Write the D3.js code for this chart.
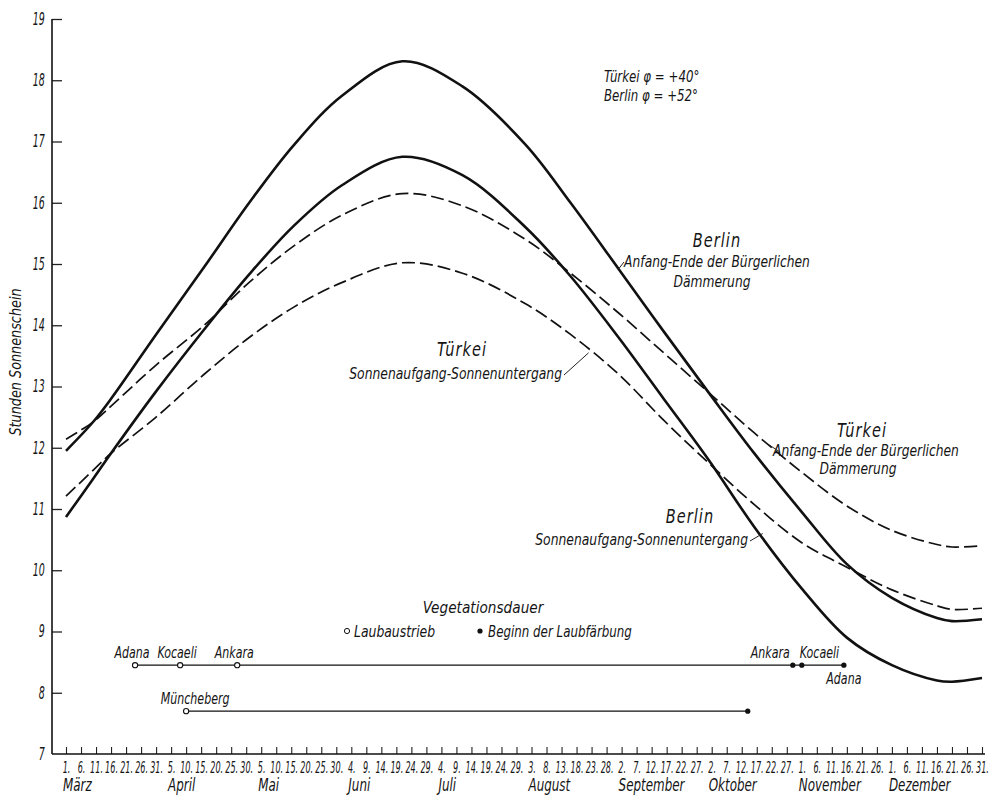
<!DOCTYPE html>
<html><head><meta charset="utf-8">
<script src="https://cdn.jsdelivr.net/npm/d3@7"></script>
<style>
body{margin:0;background:#fff;}
svg text{font-family:"DejaVu Sans Condensed","DejaVu Sans",sans-serif;font-style:italic;fill:#151515;}
</style></head><body>
<svg id="c" width="990" height="796"></svg>
<script>
const YEAR = "1938";
// sample dates (MM-DD) at which the curves were read
const sampleDates = ["03-01","03-10","03-16","03-31","04-16","05-01","05-16","06-01","06-21","07-11","08-01","08-16","09-01","09-16","10-01","10-16","11-01","11-16","12-01","12-16","12-21","12-31"];
// hours of sunshine
const berlinTwilight = [11.95,12.42,12.80,13.85,14.95,16.00,16.95,17.75,18.31,17.90,16.95,16.00,14.92,13.90,12.90,11.92,10.95,10.10,9.55,9.22,9.17,9.20];
const tuerkeiTwilight = [12.14,12.42,12.68,13.35,14.00,14.70,15.30,15.80,16.15,15.95,15.40,14.85,14.20,13.55,12.90,12.25,11.60,11.05,10.65,10.42,10.38,10.40];
const berlinSun = [10.87,11.49,11.91,12.92,13.93,14.83,15.63,16.29,16.75,16.45,15.60,14.80,13.80,12.80,11.80,10.72,9.70,8.90,8.45,8.20,8.18,8.24];
const tuerkeiSun = [11.21,11.63,11.91,12.50,13.20,13.80,14.30,14.70,15.02,14.85,14.35,13.85,13.20,12.45,11.75,11.08,10.45,10.05,9.68,9.42,9.36,9.38];

const yTicks = [7,8,9,10,11,12,13,14,15,16,17,18,19];
const monthNames = ["März","April","Mai","Juni","Juli","August","September","Oktober","November","Dezember"];

// Vegetationsdauer
const turkeyStartNames = ["Adana","Kocaeli","Ankara"];
const turkeyStartDates = ["03-24","04-08","04-27"];
const turkeyEndNames = ["Ankara","Kocaeli","Adana"];
const turkeyEndDates = ["10-29","11-01","11-15"];
const turkeyRow = 8.45;
const munchebergName = "Müncheberg";
const munchebergDates = ["04-10","10-14"];
const munchebergRow = 7.70;

const parse = d3.utcParse("%Y-%m-%d");
const D = s => parse(`${YEAR}-${s}`);

const svg = d3.select("#c");
const x = d3.scaleUtc().domain([D("03-01"), D("12-31")]).range([66, 982]);
const y = d3.scaleLinear().domain([7, 19]).range([754, 19]);
const axisY = y(7);
const axisX = 52;

// horizontally condense a text selection (the reference uses a narrow lettering)
function condense(sel, s) {
  sel.each(function () {
    const t = d3.select(this);
    const xx = +t.attr("x") || 0, yy = +t.attr("y") || 0;
    t.attr("x", 0).attr("y", 0).attr("transform", `translate(${xx},${yy}) scale(${s},1)`);
  });
  return sel;
}
function txt(xx, yy, t, size, anchor, s) {
  const e = svg.append("text").attr("x", xx).attr("y", yy).attr("text-anchor", anchor || "start")
    .style("font-size", size + "px").text(t);
  condense(e, s || 1);
  return e;
}

// ---- y axis
const gy = svg.append("g").attr("transform", `translate(${axisX},0)`)
  .call(d3.axisLeft(y).tickValues(yTicks).tickSize(-10).tickPadding(6).tickFormat(d3.format("d")));
gy.select(".domain").remove();
gy.selectAll(".tick line").attr("stroke", "#222").attr("stroke-width", 1.3);
gy.selectAll(".tick text").style("font-size", "17px").attr("fill", "#151515").attr("dx", "-2");
condense(gy.selectAll(".tick text"), 0.62);
gy.selectAll(".tick").filter(d => d === 7).select("line").remove();
svg.append("line").attr("x1", axisX).attr("x2", axisX).attr("y1", y(19)).attr("y2", axisY)
  .attr("stroke", "#111").attr("stroke-width", 1.6);

svg.append("text").attr("transform", `translate(21,362) rotate(-90) scale(0.95,1)`)
  .attr("text-anchor", "middle").style("font-size", "15px").text("Stunden Sonnenschein");

// ---- x axis
const tickDates = d3.range(0, 306, 5).map(d => d3.utcDay.offset(D("03-01"), d));
const gx = svg.append("g").attr("transform", `translate(0,${axisY})`)
  .call(d3.axisBottom(x).tickValues(tickDates).tickSize(-7).tickPadding(8).tickFormat(d3.utcFormat("%-d.")));
gx.select(".domain").remove();
gx.selectAll(".tick line").attr("stroke", "#222").attr("stroke-width", 1.1);
gx.selectAll(".tick text").style("font-size", "15px").attr("fill", "#151515");
condense(gx.selectAll(".tick text"), 0.6);
svg.append("line").attr("x1", axisX).attr("x2", 985).attr("y1", axisY).attr("y2", axisY)
  .attr("stroke", "#111").attr("stroke-width", 1.6);

// month labels at first tick of each month
monthNames.forEach((m, i) => {
  const first = tickDates.find(t => t.getUTCMonth() === i + 2);
  txt(x(first) - 3, axisY + 37, m, 17, "start", 0.78);
});

// ---- curves
const line = d3.line().x((d, i) => x(D(sampleDates[i]))).y(d => y(d)).curve(d3.curveCatmullRom.alpha(0.5));
const series = [
  {v: berlinTwilight, dash: null, w: 2.6},
  {v: berlinSun, dash: null, w: 2.6},
  {v: tuerkeiTwilight, dash: "13,5", w: 1.7},
  {v: tuerkeiSun, dash: "13,5", w: 1.7}
];
series.forEach(s => {
  svg.append("path").attr("d", line(s.v)).attr("fill", "none").attr("stroke", "#111")
    .attr("stroke-width", s.w).attr("stroke-dasharray", s.dash).attr("stroke-linecap", "butt");
});

// ---- header
txt(604, 82, "Türkei φ = +40°", 16, "start", 0.82);
txt(604, 101, "Berlin φ = +52°", 16, "start", 0.82);

// ---- annotations
function pointer(x1, y1, x2, y2) {
  svg.append("line").attr("x1", x1).attr("y1", y1).attr("x2", x2).attr("y2", y2)
    .attr("stroke", "#222").attr("stroke-width", 1);
}
function big(xx, yy, t) {
  const e = txt(xx, yy, t, 19, "middle", 0.85);
  e.style("letter-spacing", "1.2px").style("font-weight", "500");
}
// Berlin twilight (upper)
big(717, 247, "Berlin");
txt(717, 267, "Anfang-Ende der Bürgerlichen", 16, "middle", 0.855);
txt(712, 287, "Dämmerung", 16, "middle", 0.855);
pointer(624, 262, x(D("09-01")), y(14.92));
// Türkei sun (mid)
big(462, 356, "Türkei");
txt(562, 379, "Sonnenaufgang-Sonnenuntergang", 16, "end", 0.86);
pointer(564, 375, x(D("08-22")), y(13.55));
// Türkei twilight (right)
big(862, 437, "Türkei");
txt(866, 456, "Anfang-Ende der Bürgerlichen", 16, "middle", 0.855);
txt(858, 474, "Dämmerung", 16, "middle", 0.855);
pointer(780, 452, x(D("10-21")), y(12.05));
// Berlin sun (lower)
big(690, 523, "Berlin");
txt(748, 545, "Sonnenaufgang-Sonnenuntergang", 16, "end", 0.86);
pointer(750, 541, x(D("10-19")), y(10.6));

// ---- Vegetationsdauer
txt(483, 613, "Vegetationsdauer", 16, "middle", 0.95);
svg.append("circle").attr("cx", 347).attr("cy", 631).attr("r", 2.6).attr("fill", "#fff").attr("stroke", "#111").attr("stroke-width", 1);
txt(354, 637, "Laubaustrieb", 15, "start", 0.92);
svg.append("circle").attr("cx", 480).attr("cy", 631).attr("r", 2.6).attr("fill", "#111");
txt(488, 637, "Beginn der Laubfärbung", 15, "start", 0.88);

const ty = y(turkeyRow), my = y(munchebergRow);
svg.append("line").attr("x1", x(D(turkeyStartDates[0]))).attr("x2", x(D(turkeyEndDates[2])))
  .attr("y1", ty).attr("y2", ty).attr("stroke", "#111").attr("stroke-width", 1.2);
svg.append("line").attr("x1", x(D(munchebergDates[0]))).attr("x2", x(D(munchebergDates[1])))
  .attr("y1", my).attr("y2", my).attr("stroke", "#111").attr("stroke-width", 1.2);

turkeyStartDates.forEach((d, i) => {
  svg.append("circle").attr("cx", x(D(d))).attr("cy", ty).attr("r", 2.6).attr("fill", "#fff").attr("stroke", "#111").attr("stroke-width", 1.1);
  txt(x(D(d)) - 3, ty - 7, turkeyStartNames[i], 15, "middle", 0.82);
});
turkeyEndDates.forEach(d => {
  svg.append("circle").attr("cx", x(D(d))).attr("cy", ty).attr("r", 2.6).attr("fill", "#111");
});
txt(x(D(turkeyEndDates[0])) - 3, ty - 7, turkeyEndNames[0], 15, "end", 0.82);
txt(x(D(turkeyEndDates[1])) - 2, ty - 7, turkeyEndNames[1], 15, "start", 0.82);
txt(x(D(turkeyEndDates[2])), ty + 19, turkeyEndNames[2], 15, "middle", 0.82);

svg.append("circle").attr("cx", x(D(munchebergDates[0]))).attr("cy", my).attr("r", 2.6).attr("fill", "#fff").attr("stroke", "#111").attr("stroke-width", 1.1);
svg.append("circle").attr("cx", x(D(munchebergDates[1]))).attr("cy", my).attr("r", 2.6).attr("fill", "#111");
txt(x(D(munchebergDates[0])) + 9, my - 7, munchebergName, 15, "middle", 0.82);
</script>
</body></html>
